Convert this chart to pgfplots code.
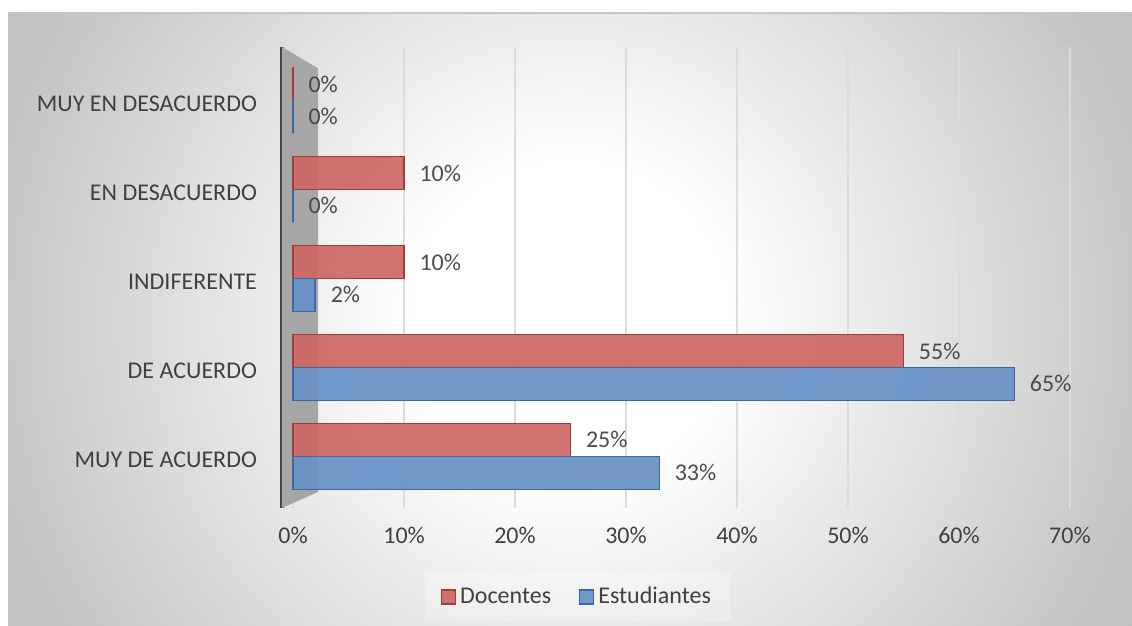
\documentclass[border=0pt]{standalone}
\usepackage{fontspec}
\setmainfont{Carlito}
\usepackage{pgfplots}
\pgfplotsset{compat=1.18}
\definecolor{txt}{HTML}{404040}
\definecolor{redfill}{HTML}{CD6966}
\definecolor{reddraw}{HTML}{A33B38}
\definecolor{bluefill}{HTML}{6892C7}
\definecolor{bluedraw}{HTML}{3C68A0}
\definecolor{bgmid}{HTML}{C8C8C8}
\definecolor{bgcorner}{HTML}{BEBEBE}
\definecolor{gridc}{HTML}{DCDCDC}
\definecolor{wall}{HTML}{A6A6A6}
\pgfdeclareradialshading{chartbg}{\pgfpoint{0bp}{0bp}}{color(0bp)=(white); color(7bp)=(white); color(25bp)=(bgmid); color(30bp)=(bgcorner); color(50bp)=(bgcorner)}
\begin{document}
\begin{tikzpicture}
\useasboundingbox (0,0) rectangle (566pt,313pt);
\fill[white] (0,0) rectangle (566pt,313pt);
\begin{scope}
\clip (4pt,0) rectangle (566pt,306.5pt);
\shade[shading=chartbg] (4pt,-128pt) rectangle (566pt,434pt);
\end{scope}
\draw[gray!45, line width=0.6pt] (4pt,306.5pt) -- (566pt,306.5pt);
\begin{axis}[
  at={(141pt,59pt)}, anchor=south west,
  width=394pt, height=230.5pt, scale only axis,
  xmin=-1, xmax=70, ymin=-0.58, ymax=4.6,
  xbar, bar width=0.37,
  axis lines*=left,
  x axis line style={draw=none},
  y axis line style={draw=txt, line width=2pt},
  xtick={0,10,...,70},
  xticklabels={0\%,10\%,20\%,30\%,40\%,50\%,60\%,70\%},
  ytick={0,...,4},
  yticklabels={MUY DE ACUERDO, DE ACUERDO, INDIFERENTE, EN DESACUERDO, MUY EN DESACUERDO},
  major tick length=0pt,
  xmajorgrids, grid style={gridc, line width=0.7pt},
  tick label style={font=\fontsize{12}{14}\selectfont, text=txt},
  yticklabel style={xshift=-9pt, yshift=-1.5pt},
  xticklabel style={yshift=-6pt},
  /pgf/number format/assume math mode=true,
  nodes near coords={\pgfmathprintnumber{\pgfplotspointmeta}\%},
  nodes near coords style={font=\fontsize{12}{14}\selectfont, text=txt, anchor=west, xshift=4pt},
  legend style={at={(0.3756,-0.193)}, anchor=center, legend columns=2, draw=none,
    fill=white, fill opacity=0.25, text opacity=1, font=\fontsize{12}{14}\selectfont, text=txt,
    inner xsep=8pt, inner ysep=5pt,
    /tikz/every even column/.append style={column sep=12pt}},
  legend image code/.code={\draw[#1, line width=0.6pt] (0pt,-3.5pt) rectangle (7pt,3.5pt);},
  clip=false,
]
\fill[wall] (axis cs:-1,4.6) -- (axis cs:2.25,4.36) -- (axis cs:2.25,-0.40) -- (axis cs:-1,-0.58) -- cycle;
\addplot[fill=redfill, draw=reddraw, line width=0.8pt, fill opacity=0.93, bar shift=0.185]
  coordinates {(25,0) (55,1) (10,2) (10,3) (0,4)};
\addplot[fill=bluefill, draw=bluedraw, line width=0.8pt, fill opacity=0.93, bar shift=-0.185]
  coordinates {(33,0) (65,1) (2,2) (0,3) (0,4)};
\legend{Docentes, Estudiantes}
\end{axis}
\end{tikzpicture}
\end{document}
